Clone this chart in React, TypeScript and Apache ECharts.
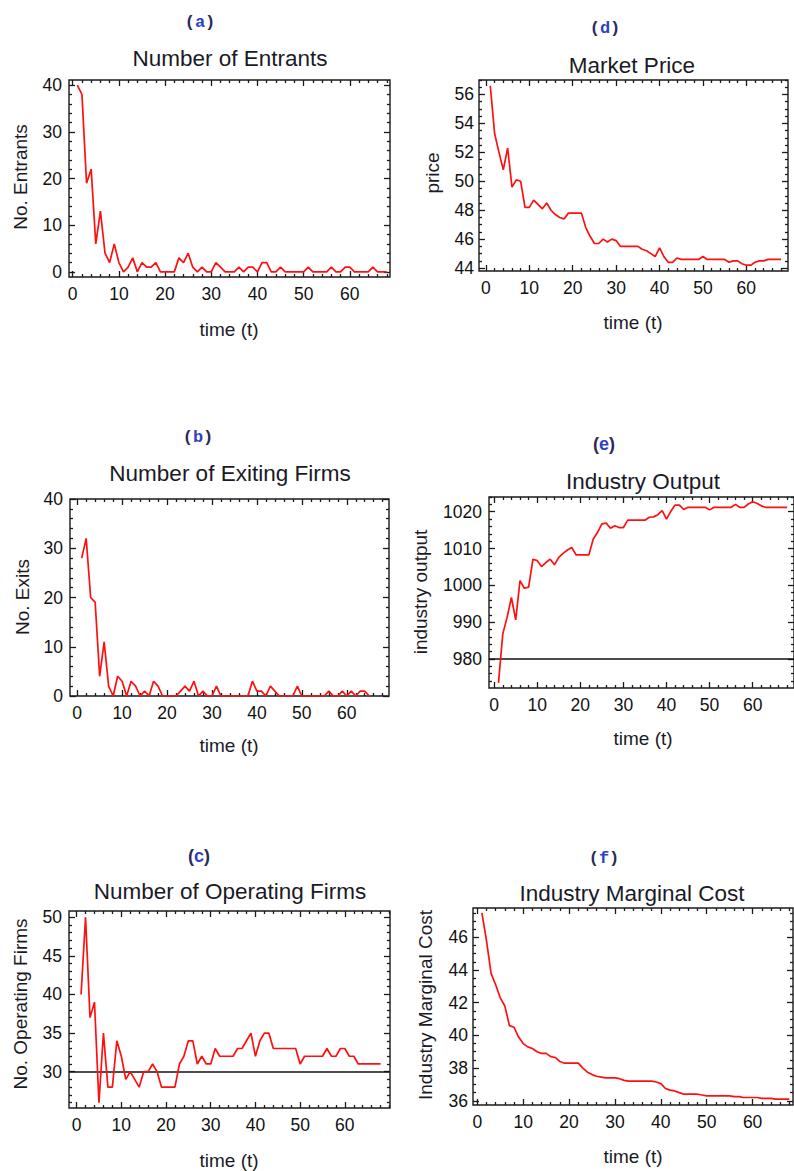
import React, { useEffect, useRef } from "react";
import * as echarts from "echarts";

// ---------- data ----------
const entrants = [
  40, 38, 19, 22, 6, 13, 4, 2, 6, 2,
  0, 1, 3, 0, 2, 1, 1, 2, 0, 0,
  0, 0, 3, 2, 4, 1, 0, 1, 0, 0,
  2, 1, 0, 0, 0, 1, 0, 1, 1, 0,
  2, 2, 0, 0, 1, 0, 0, 0, 0, 0,
  1, 0, 0, 0, 0, 1, 0, 0, 1, 1,
  0, 0, 0, 0, 1, 0, 0, 0,
];

const exits = [
  28, 32, 20, 19, 4, 11, 2, 0, 4, 3,
  0, 3, 2, 0, 1, 0, 3, 2, 0, 0,
  0, 0, 1, 2, 1, 3, 0, 1, 0, 0,
  2, 0, 0, 0, 0, 0, 0, 0, 3, 1,
  1, 0, 2, 1, 0, 0, 0, 0, 2, 0,
  0, 0, 0, 0, 0, 1, 0, 0, 1, 0,
  1, 0, 1, 1, 0,
];

const operatingFirms = [
  40, 50, 37, 39, 26, 35, 28, 28, 34, 32,
  29, 30, 29, 28, 30, 30, 31, 30, 28, 28,
  28, 28, 31, 32, 34, 34, 31, 32, 31, 31,
  33, 32, 32, 32, 32, 33, 33, 34, 35, 32,
  34, 35, 35, 33, 33, 33, 33, 33, 33, 31,
  32, 32, 32, 32, 32, 33, 32, 32, 33, 33,
  32, 32, 31, 31, 31, 31, 31, 31,
];

const marketPrice = [
  56.6, 53.3, 52.0, 50.8, 52.3, 49.6, 50.1, 50.0, 48.2, 48.2,
  48.7, 48.4, 48.1, 48.5, 48.0, 47.7, 47.5, 47.4, 47.8, 47.8,
  47.8, 47.8, 46.8, 46.2, 45.7, 45.7, 46.0, 45.8, 46.0, 45.9,
  45.5, 45.5, 45.5, 45.5, 45.5, 45.3, 45.2, 45.0, 44.8, 45.4,
  44.8, 44.4, 44.4, 44.7, 44.6, 44.6, 44.6, 44.6, 44.6, 44.8,
  44.6, 44.6, 44.6, 44.6, 44.6, 44.4, 44.5, 44.5, 44.3, 44.2,
  44.2, 44.4, 44.5, 44.5, 44.6, 44.6, 44.6, 44.6,
];

const industryOutput = [
  973.5, 986.8, 991.3, 996.7, 990.6, 1001.3, 999.2, 999.5, 1007.1, 1006.7,
  1005.1, 1006.2, 1007.1, 1005.6, 1007.6, 1008.7, 1009.6, 1010.3, 1008.3, 1008.3,
  1008.3, 1008.3, 1012.6, 1014.4, 1016.7, 1016.9, 1015.5, 1016.2, 1015.7, 1015.7,
  1017.7, 1017.7, 1017.7, 1017.7, 1017.7, 1018.5, 1018.6, 1019.2, 1020.3, 1018.0,
  1020.1, 1021.8, 1021.8, 1020.6, 1021.2, 1021.2, 1021.2, 1021.2, 1021.2, 1020.5,
  1021.2, 1021.2, 1021.2, 1021.2, 1021.2, 1022.0, 1021.2, 1021.2, 1022.1, 1022.7,
  1022.3, 1021.6, 1021.2, 1021.2, 1021.2, 1021.2, 1021.2, 1021.2,
];

const marginalCost = [
  47.5, 45.8, 43.8, 43.1, 42.3, 41.8, 40.6, 40.5, 39.9, 39.5,
  39.3, 39.2, 39.0, 38.9, 38.9, 38.7, 38.65, 38.4, 38.3, 38.3,
  38.3, 38.3, 38.0, 37.75, 37.6, 37.5, 37.45, 37.4, 37.4, 37.4,
  37.35, 37.25, 37.2, 37.2, 37.2, 37.2, 37.2, 37.2, 37.15, 37.05,
  36.75, 36.65, 36.6, 36.5, 36.4, 36.4, 36.4, 36.4, 36.35, 36.3,
  36.3, 36.3, 36.3, 36.3, 36.3, 36.25, 36.25, 36.2, 36.2, 36.2,
  36.2, 36.15, 36.15, 36.15, 36.1, 36.1, 36.1, 36.1,
];

const timeTicks = [0, 10, 20, 30, 40, 50, 60];
const entrantTicks = [0, 10, 20, 30, 40];
const exitTicks = [0, 10, 20, 30, 40];
const firmTicks = [30, 35, 40, 45, 50];
const priceTicks = [44, 46, 48, 50, 52, 54, 56];
const outputTicks = [980, 990, 1000, 1010, 1020];
const costTicks = [36, 38, 40, 42, 44, 46];

const firmsBenchmark = 30;
const outputBenchmark = 980;

// ---------- layout ----------
type Panel = {
  letter: string;
  letterMono: boolean;
  letterPos: [number, number];
  title: string;
  titlePos: [number, number];
  yName: string;
  yNamePos: [number, number];
  xNamePos: [number, number];
  grid: { left: number; top: number; width: number; height: number };
  x: [number, number];
  y: [number, number];
  yTicks: number[];
  yMinorStep: number;
  yLabelMargin: number;
  data: number[];
  ref?: number;
};

const panels: Panel[] = [
  {
    letter: "a", letterMono: true, letterPos: [200, 22],
    title: "Number of Entrants", titlePos: [230, 58],
    yName: "No. Entrants", yNamePos: [20, 177], xNamePos: [229, 329],
    grid: { left: 69, top: 80, width: 321, height: 197 },
    x: [-0.8, 68.7], y: [-1.1, 41.1], yTicks: entrantTicks, yMinorStep: 2, yLabelMargin: 7,
    data: entrants,
  },
  {
    letter: "d", letterMono: true, letterPos: [605, 28],
    title: "Market Price", titlePos: [632, 65],
    yName: "price", yNamePos: [432, 173], xNamePos: [633, 322],
    grid: { left: 479, top: 80, width: 309, height: 191 },
    x: [-1.6, 69.6], y: [43.8, 57.0], yTicks: priceTicks, yMinorStep: 0.5, yLabelMargin: 5,
    data: marketPrice,
  },
  {
    letter: "b", letterMono: true, letterPos: [198, 437],
    title: "Number of Exiting Firms", titlePos: [230, 473],
    yName: "No. Exits", yNamePos: [22, 597], xNamePos: [229, 745],
    grid: { left: 70, top: 499, width: 319, height: 197 },
    x: [-1.6, 69.4], y: [0, 40], yTicks: exitTicks, yMinorStep: 2, yLabelMargin: 7,
    data: exits,
  },
  {
    letter: "e", letterMono: false, letterPos: [604, 444],
    title: "Industry Output", titlePos: [643, 481],
    yName: "industry output", yNamePos: [420, 592], xNamePos: [643, 738],
    grid: { left: 489, top: 497, width: 314, height: 191 },
    x: [-1.2, 69.6], y: [972.1, 1024], yTicks: outputTicks, yMinorStep: 2, yLabelMargin: 7,
    data: industryOutput, ref: outputBenchmark,
  },
  {
    letter: "c", letterMono: false, letterPos: [199, 856],
    title: "Number of Operating Firms", titlePos: [230, 891],
    yName: "No. Operating Firms", yNamePos: [20, 1004], xNamePos: [229, 1160],
    grid: { left: 69, top: 911, width: 321, height: 197 },
    x: [-1.7, 70.1], y: [25.3, 50.8], yTicks: firmTicks, yMinorStep: 1, yLabelMargin: 7,
    data: operatingFirms, ref: firmsBenchmark,
  },
  {
    letter: "f", letterMono: true, letterPos: [604, 858],
    title: "Industry Marginal Cost", titlePos: [632, 893],
    yName: "Industry Marginal Cost", yNamePos: [425, 1005], xNamePos: [633, 1156],
    grid: { left: 473, top: 908, width: 320, height: 197 },
    x: [-0.94, 68.8], y: [35.74, 47.8], yTicks: costTicks, yMinorStep: 0.5, yLabelMargin: 5,
    data: marginalCost,
  },
];

const SANS = "'Liberation Sans', Arial, Helvetica, sans-serif";
const MONO = "'Liberation Mono', 'Courier New', Courier, monospace";
const INK = "#1a1a26";
const FRAME = "#1a1a1a";

function minorTicks(majors: number[], step: number, lo: number, hi: number): number[] {
  const out: number[] = [];
  const start = Math.ceil(lo / step);
  const end = Math.floor(hi / step);
  for (let k = start; k <= end; k++) {
    const v = Math.round(k * step * 1000) / 1000;
    if (!majors.some((m) => Math.abs(m - v) < 1e-6)) out.push(v);
  }
  return out;
}

function buildOption() {
  const grids: any[] = [];
  const xAxes: any[] = [];
  const yAxes: any[] = [];
  const series: any[] = [];
  const graphics: any[] = [];

  panels.forEach((p, gi) => {
    grids.push({
      left: p.grid.left, top: p.grid.top, width: p.grid.width, height: p.grid.height,
      show: true, borderColor: FRAME, borderWidth: 1.4, backgroundColor: "transparent",
      containLabel: false,
    });

    const xMinor = minorTicks(timeTicks, 2, p.x[0], p.x[1]);
    const yMinor = minorTicks(p.yTicks, p.yMinorStep, p.y[0], p.y[1]);

    const axis = (
      pos: string, min: number, max: number, ticks: number[], len: number,
      labels: number[] | null, margin: number
    ) => ({
      type: "value", gridIndex: gi, position: pos, min, max, scale: true,
      axisLine: { show: false, onZero: false },
      splitLine: { show: false },
      minorTick: { show: false },
      axisTick: {
        show: true, inside: true, length: len, customValues: ticks,
        lineStyle: { color: FRAME, width: 1.3 },
      },
      axisLabel: labels
        ? {
            show: true, customValues: labels, margin,
            fontFamily: SANS, fontSize: 17.5, color: "#111111",
            formatter: (v: number) => String(v),
          }
        : { show: false },
    });

    const xBase = xAxes.length;
    xAxes.push(axis("bottom", p.x[0], p.x[1], timeTicks, 6, timeTicks, 8));
    xAxes.push(axis("bottom", p.x[0], p.x[1], xMinor, 3, null, 0));
    xAxes.push(axis("top", p.x[0], p.x[1], timeTicks, 6, null, 0));
    xAxes.push(axis("top", p.x[0], p.x[1], xMinor, 3, null, 0));

    const yBase = yAxes.length;
    yAxes.push(axis("left", p.y[0], p.y[1], p.yTicks, 6, p.yTicks, p.yLabelMargin));
    yAxes.push(axis("left", p.y[0], p.y[1], yMinor, 3, null, 0));
    yAxes.push(axis("right", p.y[0], p.y[1], p.yTicks, 6, null, 0));
    yAxes.push(axis("right", p.y[0], p.y[1], yMinor, 3, null, 0));

    const s: any = {
      type: "line",
      xAxisIndex: xBase,
      yAxisIndex: yBase,
      data: p.data.map((v, i) => [i + 1, v]),
      showSymbol: false,
      symbol: "none",
      lineStyle: { color: "#ff1010", width: 1.7 },
      clip: true,
      z: 3,
    };
    if (p.ref !== undefined) {
      s.markLine = {
        silent: true,
        symbol: ["none", "none"],
        label: { show: false },
        lineStyle: { color: "#111111", width: 1.5, type: "solid" },
        data: [{ yAxis: p.ref }],
        z: 2,
      };
    }
    series.push(s);

    // panel letter
    graphics.push({
      type: "text",
      x: p.letterPos[0], y: p.letterPos[1],
      style: {
        text: `{p|(}{l|${p.letter}}{p|)}`,
        align: "center", verticalAlign: "middle",
        rich: {
          p: {
            fontFamily: p.letterMono ? MONO : SANS, fontWeight: "bold",
            fontSize: p.letterMono ? 17 : 18, fill: "#2a2a58",
          },
          l: {
            fontFamily: p.letterMono ? MONO : SANS, fontWeight: "bold",
            fontSize: p.letterMono ? 17 : 18, fill: "#2f3fc8",
          },
        },
      },
    });
    // title
    graphics.push({
      type: "text",
      x: p.titlePos[0], y: p.titlePos[1],
      style: {
        text: p.title, align: "center", verticalAlign: "middle",
        fontFamily: SANS, fontSize: 22.5, fill: INK,
      },
    });
    // y axis name
    graphics.push({
      type: "text",
      x: p.yNamePos[0], y: p.yNamePos[1], rotation: Math.PI / 2,
      style: {
        text: p.yName, align: "center", verticalAlign: "middle",
        fontFamily: SANS, fontSize: 19, fill: INK,
      },
    });
    // x axis name
    graphics.push({
      type: "text",
      x: p.xNamePos[0], y: p.xNamePos[1],
      style: {
        text: "time (t)", align: "center", verticalAlign: "middle",
        fontFamily: SANS, fontSize: 19, fill: INK,
      },
    });
  });

  return {
    animation: false,
    backgroundColor: "#ffffff",
    grid: grids,
    xAxis: xAxes,
    yAxis: yAxes,
    series,
    graphic: graphics,
  };
}

export default function App() {
  const ref = useRef<HTMLDivElement>(null);
  useEffect(() => {
    if (!ref.current) return;
    const chart = echarts.init(ref.current, undefined, { renderer: "svg" });
    chart.setOption(buildOption() as any);
    return () => chart.dispose();
  }, []);
  return (
    <div
      ref={ref}
      style={{ position: "absolute", left: 0, top: 0, width: 794, height: 1171, background: "#fff" }}
    />
  );
}
